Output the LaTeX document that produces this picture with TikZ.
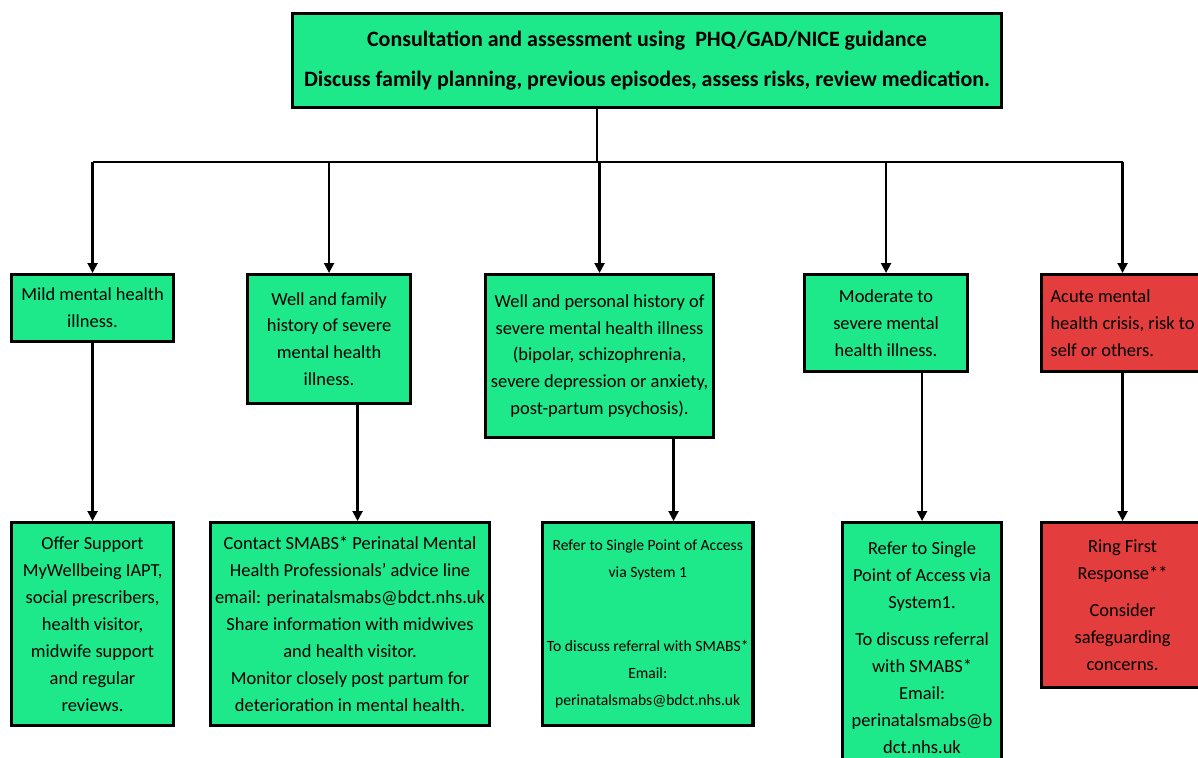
\documentclass[tikz,border=0pt]{standalone}
\usepackage{fontspec}
\setmainfont{Carlito}
\usepackage{xcolor}
\usetikzlibrary{arrows.meta, positioning}
\definecolor{boxgreen}{HTML}{1DE98B}
\definecolor{boxred}{HTML}{E43D3D}

\begin{document}
\begin{tikzpicture}[
    x=0.02cm, y=-0.02cm,
    box/.style={rectangle, draw, line width=1.8pt, fill=boxgreen, anchor=north west, align=center, inner sep=2pt, font=\fontsize{10.5}{15.3}\selectfont},
    alert/.style={box, fill=boxred},
    line/.style={line width=1.3pt},
    arrow/.style={line, -{Triangle[length=2mm, width=2mm]}}
]
    \useasboundingbox (0,0) rectangle (1198,758);
    \clip (0,0) rectangle (1198,758);

    % Nodes - top
    \node[box, minimum width=14.18cm, minimum height=1.88cm, font=\bfseries\fontsize{12.5}{15}\selectfont] (consult) at (291,12)
        {Consultation and assessment using\ \ PHQ/GAD/NICE guidance\\[8pt]Discuss family planning, previous episodes, assess risks, review medication.};

    % Nodes - middle row
    \node[box, minimum width=3.24cm, minimum height=1.34cm] (mild) at (10,273) {Mild mental health\\illness.};
    \node[box, minimum width=3.26cm, minimum height=2.58cm] (family) at (246,273) {Well and family\\history of severe\\mental health\\illness.};
    \node[box, minimum width=4.56cm, minimum height=3.26cm] (personal) at (484,273) {Well and personal history of\\severe mental health illness\\(bipolar, schizophrenia,\\severe depression or anxiety,\\post-partum psychosis).};
    \node[box, minimum width=3.26cm, minimum height=1.94cm] (moderate) at (803,273) {Moderate to\\severe mental\\health illness.};
    \node[alert, minimum width=3.24cm, minimum height=1.94cm, align=left] (acute) at (1040,273) {Acute mental\\health crisis, risk to\\self or others.};

    % Nodes - bottom row
    \node[box, minimum width=3.24cm, minimum height=4.06cm] (offer) at (10,521) {Offer Support\\MyWellbeing IAPT,\\social prescribers,\\health visitor,\\midwife support\\and regular\\reviews.};
    \node[box, minimum width=5.58cm, minimum height=4.06cm] (contact) at (209,521) {Contact SMABS* Perinatal Mental\\Health Professionals’ advice line\\email: perinatalsmabs@bdct.nhs.uk\\Share information with midwives\\and health visitor.\\Monitor closely post partum for\\deterioration in mental health.};
    \node[box, minimum width=4.14cm, minimum height=4.06cm, inner xsep=2.5pt, font=\fontsize{8.9}{15.3}\selectfont] (refer) at (541,521) {Refer to Single Point of Access\\via System 1\\[27pt]To discuss referral with SMABS*\\Email:\\perinatalsmabs@bdct.nhs.uk};
    \node[box, minimum width=3.18cm, minimum height=5.0cm] (referb) at (841,521) {Refer to Single\\Point of Access via\\System1.\\[6pt]To discuss referral\\with SMABS*\\Email:\\perinatalsmabs@b\\dct.nhs.uk};
    \node[alert, minimum width=3.24cm, minimum height=3.30cm] (ring) at (1040,521) {Ring First\\Response**\\[6pt]Consider\\safeguarding\\concerns.};

    % Split from consultation
    \coordinate (split) at (597,162);
    \draw[line] (consult.south -| split) -- (split);
    \draw[line] (mild.north |- split) -- (acute.north |- split);
    \foreach \n in {mild, family, personal, moderate, acute}
        \draw[arrow] (\n.north |- split) -- (\n.north);

    % Down to actions
    \draw[arrow] (mild) -- (offer);
    \draw[arrow] ([xshift=0.57cm]family.south) -- ([xshift=0.57cm]family.south |- contact.north);
    \draw[arrow] ([xshift=1.48cm]personal.south) -- ([xshift=1.48cm]personal.south |- refer.north);
    \draw[arrow] (moderate.south -| referb.north) -- (referb.north);
    \draw[arrow] (acute) -- (ring);
\end{tikzpicture}
\end{document}
